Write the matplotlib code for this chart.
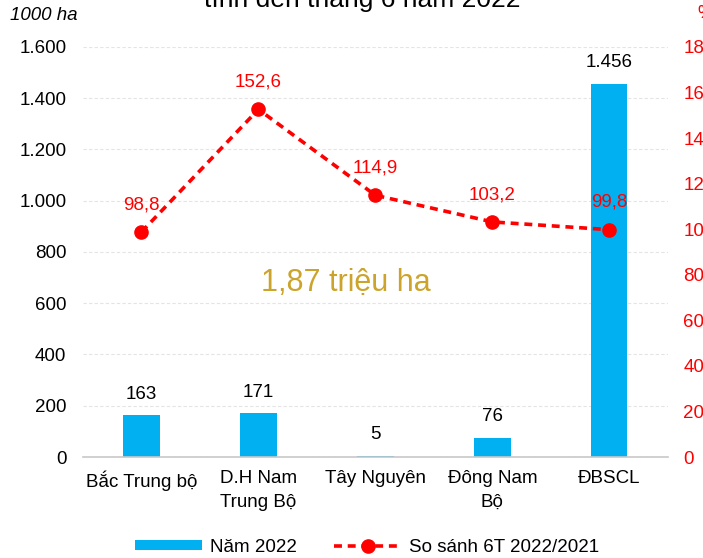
import matplotlib.pyplot as plt

plt.rcParams['font.family'] = ['Liberation Sans', 'DejaVu Sans']

# data
regions = ['Bắc Trung bộ', 'D.H Nam\nTrung Bộ', 'Tây Nguyên', 'Đông Nam\nBộ', 'ĐBSCL']
area_2022 = [163, 171, 5, 76, 1456]
area_labels = ['163', '171', '5', '76', '1.456']
compare_pct = [98.8, 152.6, 114.9, 103.2, 99.8]
compare_labels = ['98,8', '152,6', '114,9', '103,2', '99,8']
left_ticks = [0, 200, 400, 600, 800, 1000, 1200, 1400, 1600]
left_ticklabels = ['0', '200', '400', '600', '800', '1.000', '1.200', '1.400', '1.600']
right_ticks = [0, 20, 40, 60, 80, 100, 120, 140, 160, 180]

blue = '#00B0F0'
red = '#FF0000'
fs = 13.5

fig = plt.figure(figsize=(7.03, 5.58), dpi=100)
ax = fig.add_axes([0.118, 0.181, 0.832, 0.7348])
x = list(range(len(regions)))

ax.bar(x, area_2022, width=0.31, color=blue, zorder=2, label='Năm 2022')
for xi, v, lab in zip(x, area_2022, area_labels):
    ax.annotate(lab, (xi, v), xytext=(0, 9), textcoords='offset points',
                ha='center', va='bottom', fontsize=fs, color='#000000')

ax.set_xlim(-0.5, 4.5)
ax.set_ylim(0, 1600)
ax.set_yticks(left_ticks)
ax.set_yticklabels(left_ticklabels)
ax.set_xticks(x)
ax.set_xticklabels(regions, linespacing=1.5)
ax.tick_params(axis='y', length=0, pad=12, labelsize=fs)
ax.tick_params(axis='x', length=0, pad=9.5, labelsize=fs)
ax.grid(axis='y', color='#E4E4E4', linestyle=(0, (3, 2)), linewidth=0.8, zorder=0)
for s in ['top', 'right', 'left']:
    ax.spines[s].set_visible(False)
ax.spines['bottom'].set_color('#C8C8C8')
ax.spines['bottom'].set_linewidth(1.2)

ax2 = ax.twinx()
ax2.plot(x, compare_pct, color=red, linestyle=(0, (2.2, 1.6)), linewidth=2.6,
         marker='o', markersize=9.5, zorder=3, label='So sánh 6T 2022/2021')
for xi, v, lab in zip(x, compare_pct, compare_labels):
    ax2.annotate(lab, (xi, v), xytext=(0, 13.5), textcoords='offset points',
                 ha='center', va='bottom', fontsize=fs, color=red)
ax2.set_ylim(0, 180)
ax2.set_yticks(right_ticks)
ax2.tick_params(axis='y', length=0, pad=11, labelsize=fs, labelcolor=red)
for s in ax2.spines.values():
    s.set_visible(False)

ax.text(1.75, 679, '1,87 triệu ha', ha='center', va='center', fontsize=22,
        color='#CCA42B')

fig.text(10 / 703, 1 - 15 / 558, '1000 ha', fontsize=fs, style='italic',
         ha='left', va='center')
fig.text(697 / 703, 1 - 14 / 558, '%', fontsize=fs, color=red, ha='left', va='center')
fig.text(362 / 703, 1 - 7 / 558, 'tính đến tháng 6 năm 2022', fontsize=19,
         ha='center', va='baseline')

h1, l1 = ax.get_legend_handles_labels()
h2, l2 = ax2.get_legend_handles_labels()
fig.legend(h1 + h2, l1 + l2, loc='center', bbox_to_anchor=(0.522, 1 - 547 / 558),
           ncol=2, frameon=False, fontsize=fs, handlelength=3.6, handleheight=0.45,
           columnspacing=2.0, handletextpad=0.4)

fig.savefig('out.png', dpi=100)
